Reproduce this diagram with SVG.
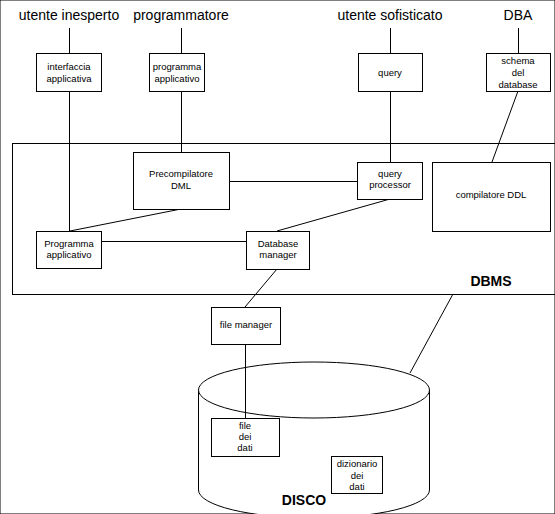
<svg xmlns="http://www.w3.org/2000/svg" width="555" height="514" viewBox="0 0 555 514">
<style>
text{font-family:"Liberation Sans",Arial,sans-serif;fill:#000;text-anchor:middle}
.s{font-size:9.5px}
.t{font-size:14px}
.b{font-size:14px;font-weight:bold}
rect,ellipse,path,line{fill:none;stroke:#000;stroke-width:1}
.w{fill:#fff}
</style>
<rect width="555" height="514" fill="#fff" stroke="none"/>
<g id="dbms">
<rect x="12.5" y="143.5" width="560" height="151"/>
<text class="b" x="491" y="286">DBMS</text>
</g>
<g id="disco">
<path class="w" d="M198.5,390 L198.5,490 A115.5,28 0 0 0 429.5,490 L429.5,390"/>
<ellipse class="w" cx="314" cy="390" rx="115.5" ry="28"/>
<text class="b" x="304" y="505">DISCO</text>
</g>
<g id="connectors">
<line x1="69.5" y1="28" x2="69.5" y2="53"/>
<line x1="69.5" y1="91" x2="69.5" y2="231"/>
<line x1="181.5" y1="28" x2="181.5" y2="53"/>
<line x1="181.5" y1="91" x2="181.5" y2="152"/>
<line x1="390.5" y1="28" x2="390.5" y2="53"/>
<line x1="390.5" y1="91" x2="390.5" y2="162"/>
<line x1="518.5" y1="28" x2="518.5" y2="53"/>
<line x1="518" y1="91" x2="492" y2="162"/>
<line x1="229" y1="181.5" x2="357" y2="181.5"/>
<line x1="181" y1="209" x2="70" y2="231"/>
<line x1="101" y1="241.5" x2="246" y2="241.5"/>
<line x1="390" y1="199" x2="277" y2="231"/>
<line x1="277" y1="269" x2="245" y2="307"/>
<line x1="245.5" y1="344" x2="245.5" y2="418"/>
<line x1="453" y1="294" x2="410" y2="373"/>
</g>
<g id="utente-inesperto"><text class="t" x="69" y="20">utente inesperto</text></g>
<g id="programmatore"><text class="t" x="181" y="20">programmatore</text></g>
<g id="utente-sofisticato"><text class="t" x="390" y="20">utente sofisticato</text></g>
<g id="dba"><text class="t" x="518" y="20">DBA</text></g>
<g id="interfaccia-applicativa">
<rect class="w" x="36.5" y="53.5" width="65" height="38"/>
<text class="s" x="69" y="70">interfaccia</text>
<text class="s" x="69" y="82">applicativa</text>
</g>
<g id="programma-applicativo-top">
<rect class="w" x="149.5" y="53.5" width="55" height="38"/>
<text class="s" x="177" y="70">programma</text>
<text class="s" x="177" y="82">applicativo</text>
</g>
<g id="query">
<rect class="w" x="358.5" y="53.5" width="64" height="38"/>
<text class="s" x="390" y="76">query</text>
</g>
<g id="schema-database">
<rect class="w" x="486.5" y="53.5" width="64" height="38"/>
<text class="s" x="518" y="64">schema</text>
<text class="s" x="518" y="76">del</text>
<text class="s" x="518" y="88">database</text>
</g>
<g id="precompilatore-dml">
<rect class="w" x="133.5" y="152.5" width="96" height="57"/>
<text class="s" x="181" y="177">Precompilatore</text>
<text class="s" x="181" y="189">DML</text>
</g>
<g id="query-processor">
<rect class="w" x="357.5" y="162.5" width="65" height="37"/>
<text class="s" x="390" y="177">query</text>
<text class="s" x="390" y="188">processor</text>
</g>
<g id="compilatore-ddl">
<rect class="w" x="432.5" y="162.5" width="118" height="69"/>
<text class="s" x="491" y="198">compilatore DDL</text>
</g>
<g id="programma-applicativo">
<rect class="w" x="36.5" y="231.5" width="65" height="37"/>
<text class="s" x="69" y="247">Programma</text>
<text class="s" x="69" y="258">applicativo</text>
</g>
<g id="database-manager">
<rect class="w" x="246.5" y="231.5" width="63" height="38"/>
<text class="s" x="278" y="247">Database</text>
<text class="s" x="278" y="258">manager</text>
</g>
<g id="file-manager">
<rect class="w" x="211.5" y="307.5" width="69" height="37"/>
<text class="s" x="246" y="328">file manager</text>
</g>
<g id="file-dei-dati">
<rect class="w" x="211.5" y="418.5" width="68" height="38"/>
<text class="s" x="245" y="429">file</text>
<text class="s" x="245" y="440">dei</text>
<text class="s" x="245" y="451">dati</text>
</g>
<g id="dizionario-dei-dati">
<rect class="w" x="331.5" y="456.5" width="51" height="37"/>
<text class="s" x="357" y="467">dizionario</text>
<text class="s" x="357" y="479">dei</text>
<text class="s" x="357" y="490">dati</text>
</g>
</svg>
